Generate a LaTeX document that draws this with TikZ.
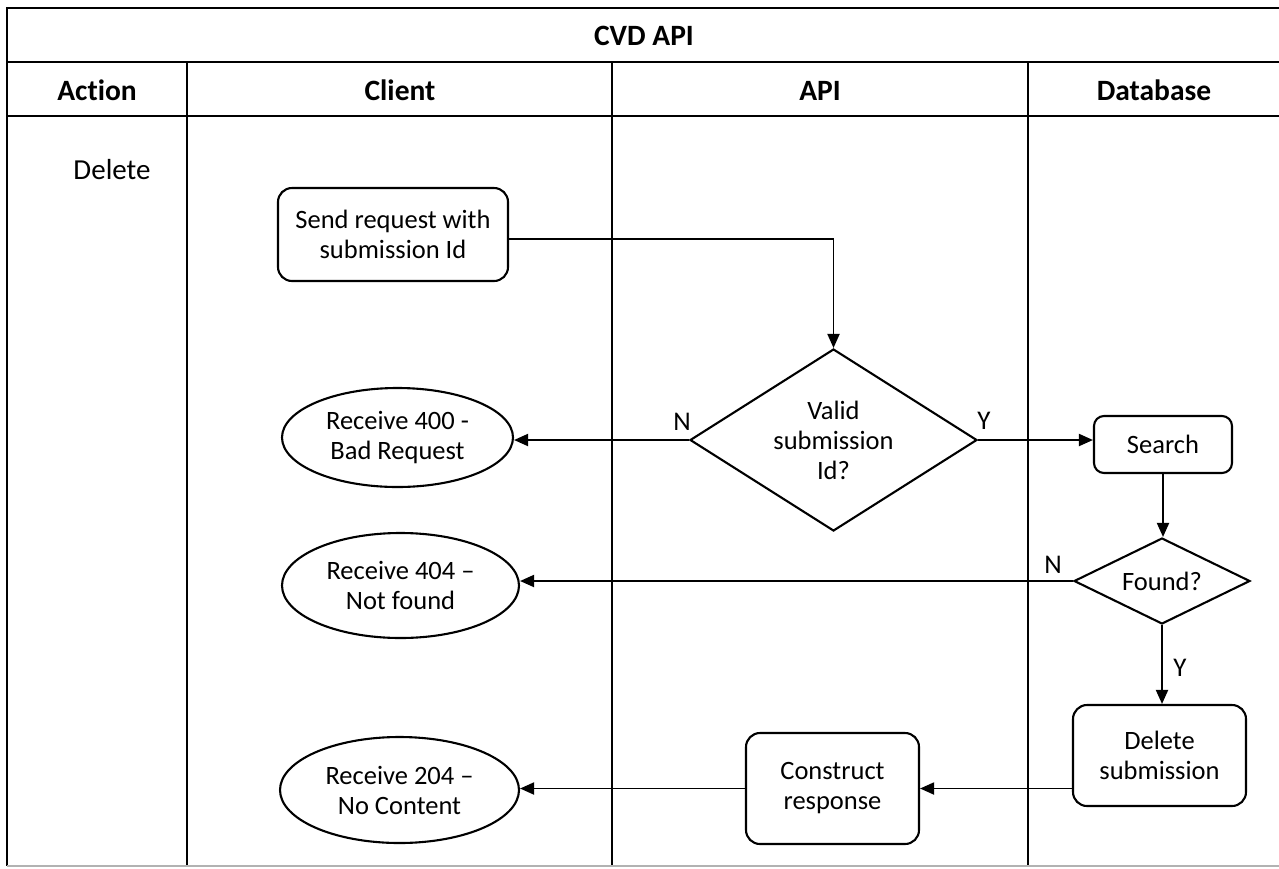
\documentclass[tikz,border=0pt]{standalone}
\usepackage{fontspec}
\setmainfont{Carlito}[Ligatures={NoCommon,NoContextual}]
\usetikzlibrary{shapes.geometric,arrows.meta}
\tikzset{
  line/.style={line width=2.1pt},
  arr/.style={line width=1.9pt,-{Triangle[length=14pt,width=12pt]}},
  ntext/.style={font=\fontsize{26.5pt}{30pt}\selectfont,align=center,inner sep=0pt},
  procbox/.style={ntext,draw,line width=2.1pt,rounded corners=14pt},
  endell/.style={ntext,draw,ellipse,line width=2.1pt},
  decide/.style={ntext,draw,diamond,line width=2.1pt},
  headtext/.style={font=\fontsize{29.5pt}{32pt}\selectfont\bfseries,inner sep=0pt,anchor=base},
  lbl/.style={font=\fontsize{27pt}{30pt}\selectfont,inner sep=0pt}
}
\begin{document}
\begin{tikzpicture}[x=1pt,y=-1pt]
\useasboundingbox (0,0) rectangle (1279,868);
% table frame
\draw[line] (7,8) -- (1290,8);
\draw[line] (7,62) -- (1290,62);
\draw[line] (7,116) -- (1290,116);
\draw[line] (7,7) -- (7,866);
\draw[line] (187,62) -- (187,866);
\draw[line] (612,62) -- (612,866);
\draw[line] (1028,62) -- (1028,866);
\draw[gray!60,line width=1.5pt] (7,866) -- (1290,866);
% headers
\node[headtext] (title) at (644,45.5) {CVD API};
\node[headtext] (hact) at (97,100.5) {Action};
\node[headtext] (hcli) at (400,100.5) {Client};
\node[headtext] (hapi) at (820,100.5) {API};
\node[headtext] (hdb) at (1154,100.5) {Database};
\node[font=\fontsize{29pt}{32pt}\selectfont,inner sep=0pt] (act) at (112,170) {Delete};
% nodes
\node[procbox,minimum width=230pt,minimum height=93pt] (send) at (393,234.5) {Send request with\\submission Id};
\node[decide,minimum width=287pt,minimum height=182pt,aspect=1.58] (valid) at (833.5,440) {Valid\\submission\\Id?};
\node[endell,minimum width=231pt,minimum height=99pt] (r400) at (397.5,437.5) {Receive 400 -\\Bad Request};
\node[procbox,minimum width=138pt,minimum height=57pt,rounded corners=10pt] (search) at (1163,444.5) {Search};
\node[decide,minimum width=176pt,minimum height=86pt,aspect=2.05] (found) at (1162,581) {Found?};
\node[endell,minimum width=237pt,minimum height=105pt] (r404) at (400.5,585.5) {Receive 404 –\\Not found};
\node[procbox,minimum width=173pt,minimum height=101pt] (del) at (1159.5,755.5) {Delete\\submission};
\node[procbox,minimum width=173pt,minimum height=111pt] (cons) at (832.5,788.5) {Construct\\response};
\node[endell,minimum width=239pt,minimum height=106pt] (r204) at (399.5,790) {Receive 204 –\\No Content};
% connectors
\draw[arr] ([yshift=-4.5pt]send.east) -| (valid.north);
\draw[arr] (valid.west) -- (valid.west -| r400.east);
\draw[arr] (valid.east) -- (valid.east -| search.west);
\draw[arr] (search.south) -- (search.south |- found.north);
\draw[arr] (found.west) -- (found.west -| r404.east);
\draw[arr] (found.south) -- (found.south |- del.north);
\draw[arr] (del.west |- cons.east) -- (cons.east);
\draw[arr] (cons.west) -- (cons.west -| r204.east);
% labels
\node[lbl] (n1) at (682,422) {N};
\node[lbl] (y1) at (984,421) {Y};
\node[lbl] (n2) at (1053,565) {N};
\node[lbl] (y2) at (1180,668) {Y};
\end{tikzpicture}
\end{document}
